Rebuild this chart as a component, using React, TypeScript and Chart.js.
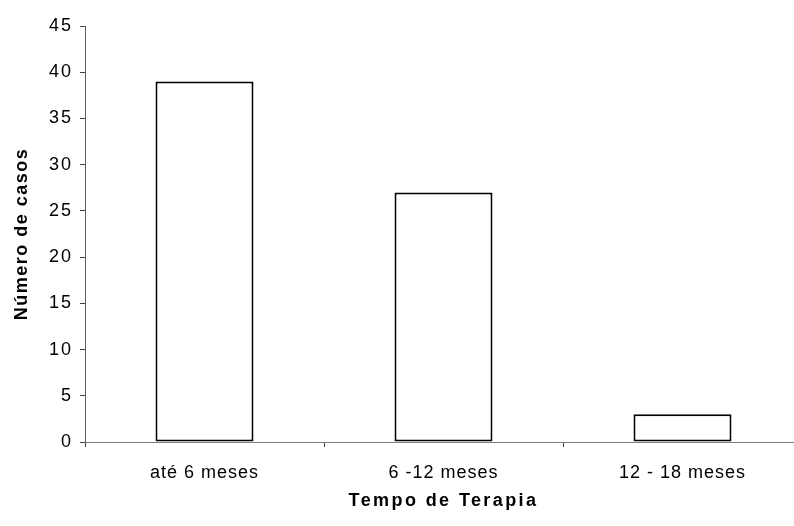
import { useEffect, useRef } from 'react';
import { Chart, registerables } from 'chart.js';

Chart.register(...registerables);

const categories = ['até 6 meses', '6 -12 meses', '12 - 18 meses'];
const casos = [39, 27, 3];
const yMin = 0;
const yMax = 45;
const yStep = 5;
const xTitle = 'Tempo de Terapia';
const yTitle = 'Número de casos';

const FONT = "'Liberation Sans', Arial, Helvetica, sans-serif";

const spacing: Record<string, { labels: string; title: string }> = {
  x: { labels: '1px', title: '2.4px' },
  y: { labels: '2px', title: '1.5px' },
};

const spacingPlugin = {
  id: 'letterSpacingPlugin',
  beforeDraw(chart: any) {
    for (const id of Object.keys(spacing)) {
      const scale = chart.scales[id];
      if (!scale || scale.__spaced) continue;
      scale.__spaced = true;
      const wrap = (name: string, sp: string) => {
        const orig = scale[name];
        scale[name] = function (...args: any[]) {
          const ctx = this.ctx;
          ctx.save();
          ctx.letterSpacing = sp;
          orig.apply(this, args);
          ctx.restore();
        };
      };
      wrap('drawLabels', spacing[id].labels);
      wrap('drawTitle', spacing[id].title);
    }
  },
};

export default function App() {
  const ref = useRef<HTMLCanvasElement | null>(null);

  useEffect(() => {
    document.body.style.margin = '0';
    const canvas = ref.current;
    if (!canvas) return;
    const chart = new Chart(canvas, {
      type: 'bar',
      data: {
        labels: categories,
        datasets: [
          {
            data: casos,
            backgroundColor: '#ffffff',
            borderColor: '#000000',
            borderWidth: 2,
            borderSkipped: false,
            barPercentage: 0.41,
            categoryPercentage: 1,
          },
        ],
      },
      options: {
        animation: false,
        responsive: false,
        devicePixelRatio: 1,
        layout: { padding: { top: 26, right: 8, left: 0, bottom: 0 } },
        plugins: {
          legend: { display: false },
          tooltip: { enabled: false },
        },
        scales: {
          x: {
            grid: {
              display: true,
              drawOnChartArea: false,
              drawTicks: true,
              tickLength: 5,
              color: '#404040',
              offset: true,
            },
            border: { display: true, color: '#808080', width: 1 },
            ticks: {
              color: '#000000',
              font: { family: FONT, size: 18 },
              padding: 15,
              maxRotation: 0,
              autoSkip: false,
            },
            title: {
              display: true,
              text: xTitle,
              color: '#000000',
              font: { family: FONT, size: 18, weight: 'bold' },
              padding: { top: 0, bottom: 14 },
            },
            afterFit: (s: any) => {
              s.height = 84;
            },
          },
          y: {
            min: yMin,
            max: yMax,
            ticks: {
              stepSize: yStep,
              color: '#000000',
              font: { family: FONT, size: 18 },
              padding: 7,
            },
            grid: {
              display: true,
              drawOnChartArea: false,
              drawTicks: true,
              tickLength: 5,
              color: '#404040',
            },
            border: { display: true, color: '#606060', width: 1 },
            title: {
              display: true,
              text: yTitle,
              color: '#000000',
              font: { family: FONT, size: 18, weight: 'bold' },
              padding: { top: 11, bottom: 0 },
            },
            afterFit: (s: any) => {
              s.width = 85;
            },
          },
        },
      },
      plugins: [spacingPlugin],
    } as any);
    return () => chart.destroy();
  }, []);

  return (
    <canvas
      ref={ref}
      width={810}
      height={526}
      style={{ position: 'fixed', left: 0, top: 0, width: '810px', height: '526px', background: '#ffffff' }}
    />
  );
}
